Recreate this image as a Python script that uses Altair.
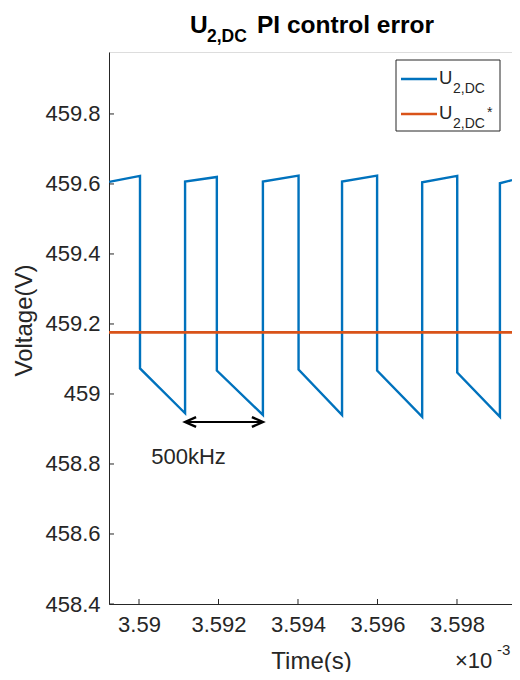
import altair as alt
import pandas as pd

# ---- data (time in units of 1e-3 s, voltage in V) ----
wave_t = [3.58925, 3.590025, 3.590025, 3.591159, 3.591159, 3.591958, 3.591958,
          3.593117, 3.593117, 3.594014, 3.594014, 3.595108, 3.595108, 3.595990,
          3.595990, 3.597124, 3.597124, 3.598006, 3.598006, 3.599080, 3.599080,
          3.599384]
wave_v = [459.606, 459.623, 459.073, 458.945, 459.607, 459.620, 459.067,
          458.940, 459.607, 459.624, 459.070, 458.940, 459.607, 459.624,
          459.067, 458.935, 459.605, 459.623, 459.061, 458.935, 459.602,
          459.611]
ref_v = [459.176]
x_ticks = [3.59, 3.592, 3.594, 3.596, 3.598]
y_ticks = [458.4, 458.6, 458.8, 459.0, 459.2, 459.4, 459.6, 459.8]
arrow_t = [3.591159, 3.593117]
arrow_v = [458.92, 458.92]
label_t = [3.591245]
label_v = [458.82]
label_txt = ["500kHz"]

X_DOM = [3.589245, 3.599384]
Y_DOM = [458.4, 459.977]

FONT = "Liberation Sans"
AX = "#262626"
BLUE = "#0072BD"
ORANGE = "#D95319"

W, H = 403, 552

xs = alt.Scale(domain=X_DOM, nice=False, zero=False)
ys = alt.Scale(domain=Y_DOM, nice=False, zero=False)

wave_df = pd.DataFrame({"t": wave_t, "v": wave_v, "i": list(range(len(wave_t)))})
ref_df = pd.DataFrame({"v": ref_v})
xt_df = pd.DataFrame({"t": x_ticks})
yt_df = pd.DataFrame({"v": y_ticks})
arrow_df = pd.DataFrame({"t": arrow_t, "v": arrow_v})
lab_df = pd.DataFrame({"t": label_t, "v": label_v, "txt": label_txt})
one = pd.DataFrame({"a": [0]})

x_axis = alt.Axis(values=x_ticks, format=".3~f", title="Time(s)", ticks=False, tickSize=0,
                  labelPadding=10, labelFontSize=22, labelFont=FONT, labelColor=AX,
                  domainColor=AX, domainWidth=1, grid=False, titleFontSize=24,
                  titleFont=FONT, titleFontWeight="normal", titleColor=AX,
                  titleX=202, titleY=57, titleBaseline="middle", titleAlign="center",
                  labelFlush=False, labelOverlap=False)
y_axis = alt.Axis(values=y_ticks, format=".1~f", title="Voltage(V)", ticks=False, tickSize=0,
                  labelPadding=9, labelFontSize=22, labelFont=FONT, labelColor=AX,
                  domainColor=AX, domainWidth=1, grid=False, titleFontSize=24,
                  titleFont=FONT, titleFontWeight="normal", titleColor=AX,
                  titleX=-85, titleY=268, titleAngle=270, titleBaseline="middle",
                  titleAlign="center", labelFlush=False, labelOverlap=False)

X = lambda: alt.X("t:Q", scale=xs, axis=x_axis)
Y = lambda: alt.Y("v:Q", scale=ys, axis=y_axis)

wave = alt.Chart(wave_df).mark_line(color=BLUE, strokeWidth=2.4, clip=True).encode(
    x=X(), y=Y(), order="i:Q",
)
ref = alt.Chart(ref_df).mark_rule(color=ORANGE, strokeWidth=2.6).encode(y=Y())
xtick = alt.Chart(xt_df).mark_rule(color=AX, strokeWidth=1).encode(
    x=X(), y=alt.value(H), y2=alt.value(H - 5)
)
ytick = alt.Chart(yt_df).mark_rule(color=AX, strokeWidth=1).encode(
    y=Y(), x=alt.value(0), x2=alt.value(5)
)
arrow_line = alt.Chart(arrow_df).mark_line(color="black", strokeWidth=2.2).encode(x=X(), y=Y())
head_r = alt.Chart(arrow_df.iloc[[1]]).mark_point(
    shape="M-1,-0.45L0,0L-1,0.45", size=484, filled=False, stroke="black",
    strokeWidth=2.4, opacity=1
).encode(x=X(), y=Y())
head_l = alt.Chart(arrow_df.iloc[[0]]).mark_point(
    shape="M1,-0.45L0,0L1,0.45", size=484, filled=False, stroke="black",
    strokeWidth=2.4, opacity=1
).encode(x=X(), y=Y())
freq = alt.Chart(lab_df).mark_text(font=FONT, fontSize=22, color=AX, baseline="middle",
                                   align="center").encode(x=X(), y=Y(), text="txt:N")


def txt(s, x, y, size, weight="normal", color=AX, baseline="alphabetic"):
    return alt.Chart(one).mark_text(text=s, font=FONT, fontSize=size, fontWeight=weight,
                                    color=color, align="left", baseline=baseline).encode(
        x=alt.value(x), y=alt.value(y))


# title
title_layers = [
    txt("U", 81, -19, 24.5, "bold", "#000000"),
    txt("2,DC", 98, -10, 17.5, "bold", "#000000"),
    txt("PI control error", 148, -19, 24.5, "bold", "#000000"),
]

# legend
leg_box = alt.Chart(one).mark_rect(fill="white", stroke=AX, strokeWidth=1).encode(
    x=alt.value(287), x2=alt.value(391), y=alt.value(8), y2=alt.value(79))
leg_l1 = alt.Chart(one).mark_rule(color=BLUE, strokeWidth=2.4).encode(
    x=alt.value(292), x2=alt.value(328), y=alt.value(27))
leg_l2 = alt.Chart(one).mark_rule(color=ORANGE, strokeWidth=2.6).encode(
    x=alt.value(292), x2=alt.value(328), y=alt.value(62))
legend_layers = [
    leg_box, leg_l1, leg_l2,
    txt("U", 330, 32, 18.5), txt("2,DC", 344, 41, 14),
    txt("U", 330, 67, 18.5), txt("2,DC", 344, 76, 14), txt("*", 378, 65, 14),
]

# exponent
exp_layers = [txt("\u00d710", 346, 616, 22), txt("-3", 388, 603, 15)]

chart = alt.layer(
    wave, ref, xtick, ytick, arrow_line, head_l, head_r, freq,
    *title_layers, *legend_layers, *exp_layers
).properties(
    width=W, height=H,
    padding={"left": 101, "top": 44, "right": 0, "bottom": 68},
    autosize=alt.AutoSizeParams(type="none"),
).configure_view(stroke=None).configure(background="white")

chart.save("out.html", embed_options={"renderer": "svg", "actions": False})
